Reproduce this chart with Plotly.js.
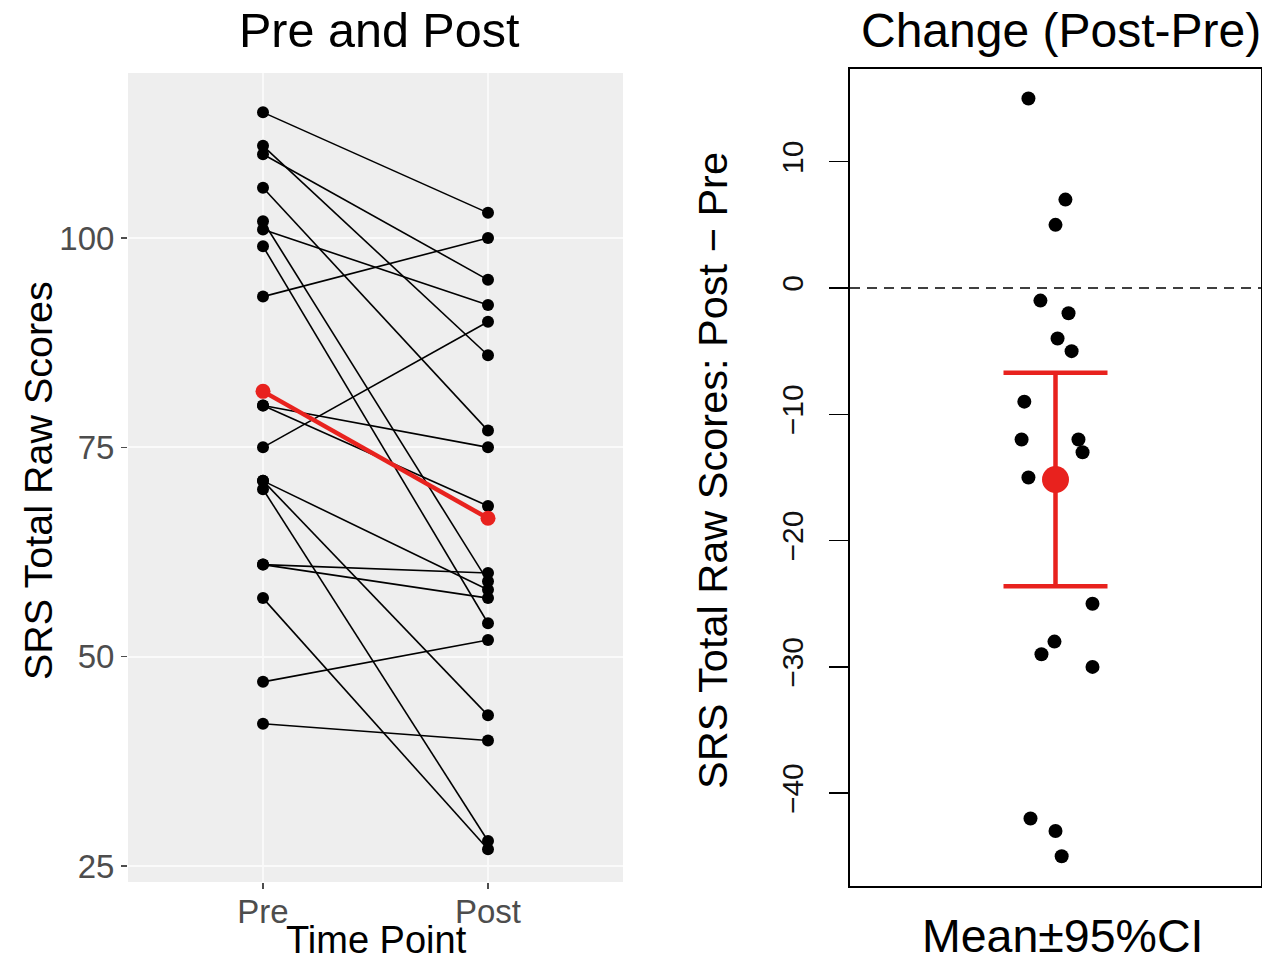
<!DOCTYPE html>
<html>
<head>
<meta charset="utf-8">
<script src="https://cdn.plot.ly/plotly-3.0.1.min.js"></script>
<style>
  html, body { margin: 0; padding: 0; background: #ffffff; }
  #chart { width: 1262px; height: 964px; }
</style>
</head>
<body>
<div id="chart"></div>
<script>
// SRS total raw scores for each participant, before and after
const timePoints = ['Pre', 'Post'];
const preScores  = [115, 111, 110, 106, 102, 101, 99, 93, 80, 80, 75, 71, 71, 70, 61, 61, 57, 47, 42];
const postScores = [103,  86,  95,  77,  59,  92, 54, 100, 75, 68, 90, 58, 43, 28, 60, 57, 27, 52, 40];
// horizontal jitter of each participant's change point (category units)
const jitterX = [-0.099, 0.108, -0.079, -0.041, 0, -0.091, 0.018, 0.029, 0.047, 0.067,
                 -0.079, 0.079, -0.003, -0.073, -0.044, 0.006, 0.108, 0, 0.038];
const leftTicks  = [25, 50, 75, 100];
const rightTicks = [-40, -30, -20, -10, 0, 10];
const T_CRIT_DF18 = 2.100922; // two-sided 95% t quantile, n = 19

const W = 1262, H = 964;
const FONT = 'Liberation Sans, Arial, Helvetica, sans-serif';
const RED = '#E8221E';

// changes and summary stats
const changes = postScores.map((v, i) => v - preScores[i]);
const mean = a => a.reduce((s, v) => s + v, 0) / a.length;
const sd = a => { const m = mean(a); return Math.sqrt(a.reduce((s, v) => s + (v - m) ** 2, 0) / (a.length - 1)); };
const meanChange = mean(changes);
const ciHalf = T_CRIT_DF18 * sd(changes) / Math.sqrt(changes.length);

// paired lines: one segment per participant, separated by gaps
const pairX = [], pairY = [];
preScores.forEach((p, i) => {
  pairX.push(1, 2, null);
  pairY.push(p, postScores[i], null);
});

const traces = [
  {
    type: 'scatter', mode: 'lines+markers', xaxis: 'x', yaxis: 'y',
    x: pairX, y: pairY, connectgaps: false,
    line: { color: '#000000', width: 1.6 },
    marker: { color: '#000000', size: 12 },
    hoverinfo: 'skip', showlegend: false
  },
  {
    type: 'scatter', mode: 'lines+markers', xaxis: 'x', yaxis: 'y',
    x: [1, 2], y: [mean(preScores), mean(postScores)],
    line: { color: RED, width: 4.5 },
    marker: { color: RED, size: 15 },
    showlegend: false
  },
  {
    type: 'scatter', mode: 'markers', xaxis: 'x2', yaxis: 'y2',
    x: changes.map((_, i) => 1 + jitterX[i]), y: changes,
    marker: { color: '#000000', size: 14 },
    showlegend: false
  },
  {
    type: 'scatter', mode: 'markers', xaxis: 'x2', yaxis: 'y2',
    x: [1], y: [meanChange],
    marker: { color: RED, size: 27 },
    error_y: { type: 'data', symmetric: true, array: [ciHalf], color: RED, thickness: 4.5, width: 52 },
    showlegend: false
  }
];

const px = v => v / W;
const py = v => 1 - v / H;

const layout = {
  width: W, height: H,
  margin: { l: 0, r: 0, t: 0, b: 0, pad: 0 },
  paper_bgcolor: '#ffffff', plot_bgcolor: 'rgba(0,0,0,0)',
  font: { family: FONT, color: '#000000' },
  showlegend: false,
  xaxis: {
    domain: [px(128), px(623)], range: [0.4, 2.6],
    tickvals: [1, 2], ticktext: timePoints,
    ticks: 'outside', ticklen: 6, tickwidth: 1.5, tickcolor: '#4D4D4D',
    tickfont: { size: 33, color: '#4D4D4D', family: FONT },
    ticklabelstandoff: -6,
    showgrid: true, gridcolor: '#F9F9F9', gridwidth: 2,
    zeroline: false, showline: false, automargin: false, fixedrange: true
  },
  yaxis: {
    domain: [py(882), py(73)], range: [23.1, 119.7],
    tickvals: leftTicks,
    ticks: 'outside', ticklen: 6, tickwidth: 1.5, tickcolor: '#4D4D4D',
    tickfont: { size: 33, color: '#4D4D4D', family: FONT },
    showgrid: true, gridcolor: '#FAFAFA', gridwidth: 2,
    zeroline: false, showline: false, automargin: false, fixedrange: true
  },
  xaxis2: {
    domain: [px(850), px(1261)], range: [0.4, 1.6], anchor: 'y2',
    showticklabels: false, ticks: '', showgrid: false, zeroline: false,
    showline: true, mirror: true, linecolor: '#000000', linewidth: 1.8,
    automargin: false, fixedrange: true
  },
  yaxis2: {
    domain: [py(886), py(69)], range: [-47.35, 17.34], anchor: 'x2',
    tickvals: rightTicks, tickangle: -90,
    ticks: 'outside', ticklen: 19, tickwidth: 1.5, tickcolor: '#000000',
    tickfont: { size: 30, color: '#111111', family: FONT },
    ticklabelstandoff: 14,
    showgrid: false, zeroline: false,
    showline: true, mirror: true, linecolor: '#000000', linewidth: 1.8,
    automargin: false, fixedrange: true
  },
  shapes: [
    { type: 'rect', layer: 'below', xref: 'x domain', yref: 'y domain',
      x0: 0, x1: 1, y0: 0, y1: 1, fillcolor: '#EEEEEE', line: { width: 0 } },
    { type: 'line', layer: 'below', xref: 'x2 domain', yref: 'y2',
      x0: 0, x1: 1, y0: 0, y1: 0, line: { color: '#000000', width: 1.6, dash: '10px,7px' } }
  ],
  annotations: [
    { text: 'Pre and Post', xref: 'paper', yref: 'paper', x: px(379), y: py(30),
      xanchor: 'center', yanchor: 'middle', showarrow: false, font: { size: 48.5, family: FONT } },
    { text: 'Change (Post-Pre)', xref: 'paper', yref: 'paper', x: px(1061), y: py(30),
      xanchor: 'center', yanchor: 'middle', showarrow: false, font: { size: 48, family: FONT } },
    { text: 'SRS Total Raw Scores', xref: 'paper', yref: 'paper', x: px(38), y: py(481),
      textangle: -90, xanchor: 'center', yanchor: 'middle', showarrow: false, font: { size: 39.5, family: FONT } },
    { text: 'Time Point', xref: 'paper', yref: 'paper', x: px(376), y: py(940),
      xanchor: 'center', yanchor: 'middle', showarrow: false, font: { size: 38, family: FONT } },
    { text: 'SRS Total Raw Scores: Post \u2212 Pre', xref: 'paper', yref: 'paper', x: px(712), y: py(470),
      textangle: -90, xanchor: 'center', yanchor: 'middle', showarrow: false, font: { size: 41.5, family: FONT } },
    { text: 'Mean\u00B195%CI', xref: 'paper', yref: 'paper', x: px(1062), y: py(936),
      xanchor: 'center', yanchor: 'middle', showarrow: false, font: { size: 46.5, family: FONT } }
  ]
};

Plotly.newPlot('chart', traces, layout, { staticPlot: true, displayModeBar: false });
</script>
</body>
</html>
